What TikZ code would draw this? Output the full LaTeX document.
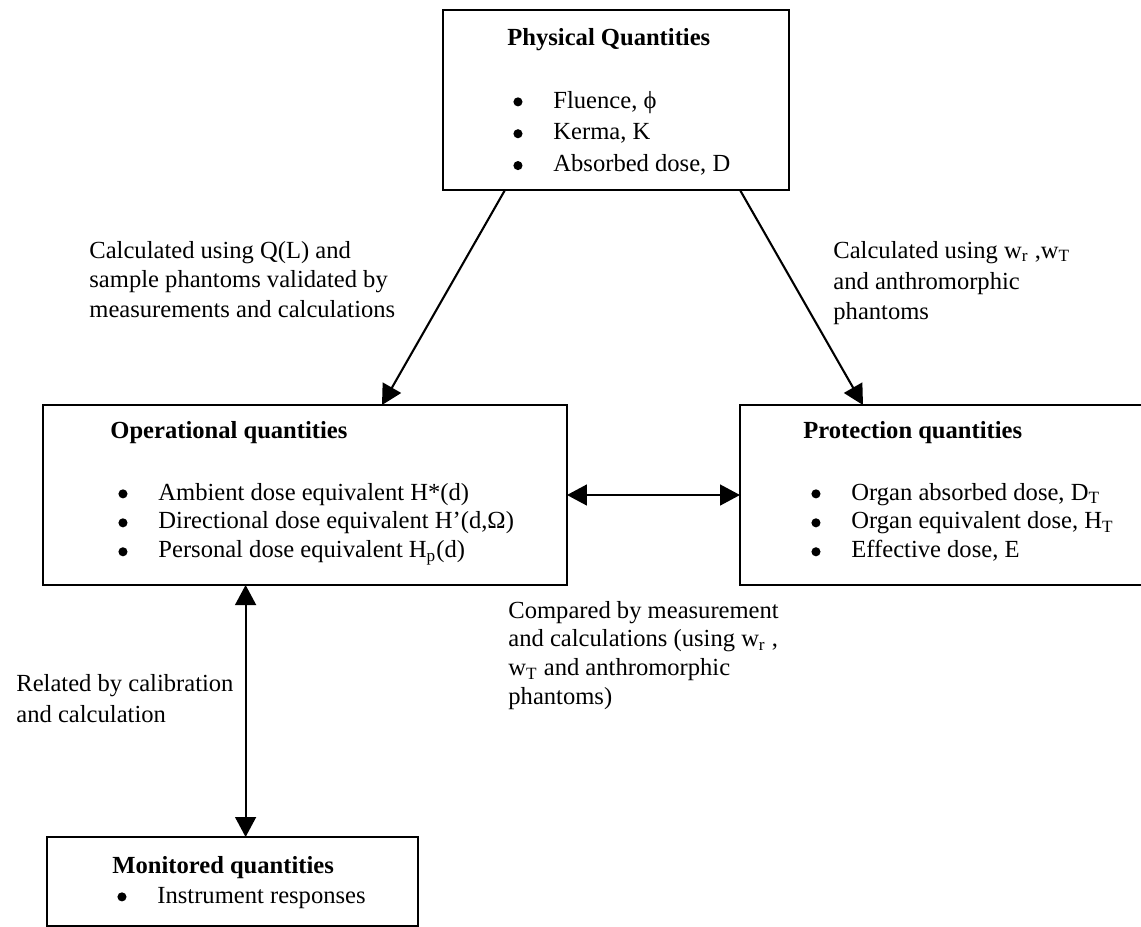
\documentclass[tikz,border=0pt]{standalone}
\usepackage{fontspec}
\setmainfont{Liberation Serif}
\usetikzlibrary{arrows.meta}

\newcommand{\qitem}{\makebox[19.2pt][l]{\tikz[baseline=-0.25em]\fill (0.185em,0) circle (0.185em);}}
\newcommand{\qlines}[2][1]{\renewcommand{\arraystretch}{#1}\begin{tabular}[t]{@{}l@{}}#2\end{tabular}}

\begin{document}
\begin{tikzpicture}[x=0.48pt, y=-0.48pt,
                    font=\fontsize{11.8}{13.9}\selectfont,
                    qbox/.style={draw, line width=1.3pt, anchor=north west, inner sep=0pt, outer sep=0pt},
                    qtext/.style={anchor=base west, inner sep=0pt},
                    link/.style={line width=1pt, -{Triangle[length=9.6pt, width=10pt]}},
                    twoway/.style={line width=1pt, {Triangle[length=9.6pt, width=10pt]}-{Triangle[length=9.6pt, width=10pt]}}]
\useasboundingbox (0,0) rectangle (1141,926);
\clip (0,0) rectangle (1141,926);

% boxes
\node[qbox, minimum width=166.1pt, minimum height=86.4pt] (phys) at (443,10) {};
\node[qbox, minimum width=251.5pt, minimum height=86.4pt] (oper) at (43,405) {};
\node[qbox, minimum width=201.6pt, minimum height=86.4pt] (prot) at (740,405) {};
\node[qbox, minimum width=178.1pt, minimum height=42.7pt] (moni) at (47,837) {};

% box contents
\node[qtext] (physhead) at (507,45) {\textbf{Physical Quantities}};
\node[qtext] (physlist) at (513,108)
{\qlines[1.1]{\qitem Fluence, ϕ\\
              \qitem Kerma, K\\
              \qitem Absorbed dose, D}};

\node[qtext] (operhead) at (110,438) {\textbf{Operational quantities}};
\node[qtext] (operlist) at (118,500)
{\qlines{\qitem Ambient dose equivalent H*(d)\\
         \qitem Directional dose equivalent H’(d,Ω)\\
         \qitem Personal dose equivalent H\textsubscript{p}(d)}};

\node[qtext] (prothead) at (803,438) {\textbf{Protection quantities}};
\node[qtext] (protlist) at (811,500)
{\qlines{\qitem Organ absorbed dose, D\textsubscript{T}\\
         \qitem Organ equivalent dose, H\textsubscript{T}\\
         \qitem Effective dose, E}};

\node[qtext] (monihead) at (112,873) {\textbf{Monitored quantities}};
\node[qtext] (monilist) at (117,903) {\qitem Instrument responses};

% labels
\node[qtext] (calcoper) at (89,258)
{\qlines[1.03]{Calculated using Q(L) and\\
               sample phantoms validated by\\
               measurements and calculations}};
\node[qtext] (calcprot) at (833,258)
{\qlines[1.07]{Calculated using w\textsubscript{r} ,w\textsubscript{T}\\
               and anthromorphic\\
               phantoms}};
\node[qtext] (compared) at (508,618)
{\qlines{Compared by measurement\\
         and calculations (using w\textsubscript{r} ,\\
         w\textsubscript{T} and anthromorphic\\
         phantoms)}};
\node[qtext] (related) at (16,691)
{\qlines[1.07]{Related by calibration\\
               and calculation}};

% connectors
\draw[link] ([shift={(62,0)}]phys.south west) -- ([shift={(339,0)}]oper.north west);
\draw[link] ([shift={(297,0)}]phys.south west) -- ([shift={(123,0)}]prot.north west);
\draw[twoway] (oper.east) -- (prot.west);
\draw[twoway] ([shift={(202.6,0)}]oper.south west) -- ([shift={(198.6,0)}]moni.north west);
\end{tikzpicture}
\end{document}
